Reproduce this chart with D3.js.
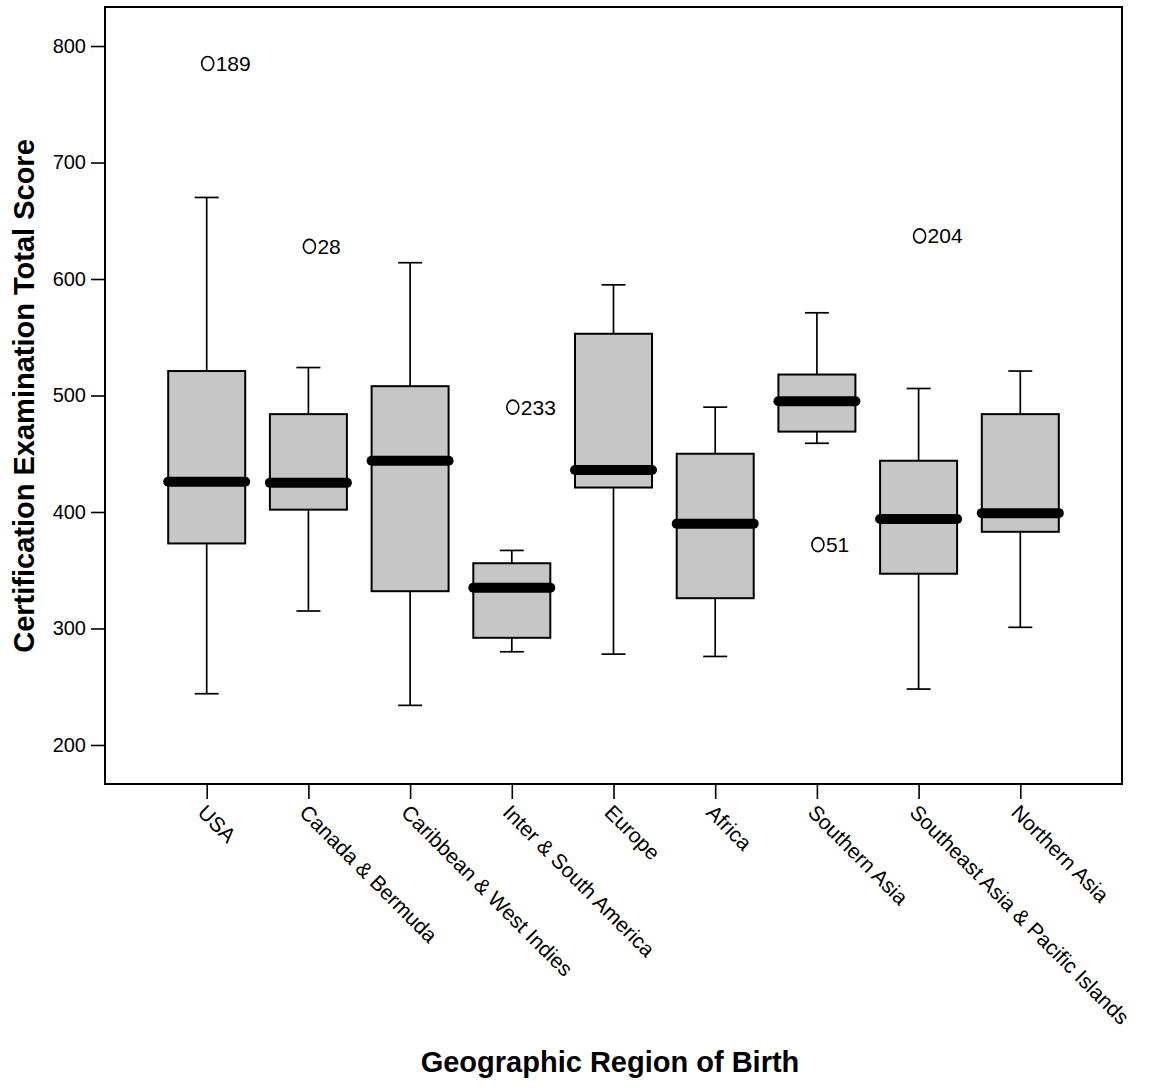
<!DOCTYPE html>
<html><head><meta charset="utf-8">
<script src="https://cdn.jsdelivr.net/npm/d3@7"></script>
<style>body{margin:0;background:#fff;} svg{display:block;font-family:"Liberation Sans",Arial,sans-serif;}</style>
</head><body>
<svg id="c" width="1154" height="1091"></svg>
<script>
const categories = ["USA","Canada & Bermuda","Caribbean & West Indies","Inter & South America","Europe","Africa","Southern Asia","Southeast Asia & Pacific Islands","Northern Asia"];
const whiskerLow  = [244, 315, 234, 280, 278, 276, 459, 248, 301];
const q1          = [373, 402, 332, 292, 421, 326, 469, 347, 383];
const median      = [426, 425, 444, 335, 436, 390, 495, 394, 399];
const q3          = [521, 484, 508, 356, 553, 450, 518, 444, 484];
const whiskerHigh = [670, 524, 614, 367, 595, 490, 571, 506, 521];
const outlierCat   = ["USA","Canada & Bermuda","Inter & South America","Southern Asia","Southeast Asia & Pacific Islands"];
const outlierValue = [785, 628, 490, 372, 637];
const outlierLabel = ["189","28","233","51","204"];
const yTicks = [200,300,400,500,600,700,800];

const svg = d3.select("#c");
const L=105, R=1122, T=7, B=784;
const FONT = "Liberation Sans, Arial, sans-serif";
const x = d3.scalePoint().domain(categories).range([L,R]).padding(1);
const y = d3.scaleLinear().domain([166.5,833.5]).range([B,T]);

// y axis
const ya = svg.append("g").attr("transform",`translate(${L},0)`)
  .call(d3.axisLeft(y).tickValues(yTicks).tickSize(14).tickPadding(5).tickFormat(d3.format("d")));
ya.select(".domain").remove();
ya.selectAll("line").attr("stroke","#000").attr("stroke-width",1.6);
ya.selectAll("text").attr("font-size",20).attr("fill","#000").attr("font-family",FONT);

// x axis
const xa = svg.append("g").attr("transform",`translate(0,${B})`)
  .call(d3.axisBottom(x).tickSize(15).tickFormat(""));
xa.select(".domain").remove();
xa.selectAll("line").attr("stroke","#000").attr("stroke-width",1.6);
xa.selectAll(".tick").append("text")
  .text(d=>d)
  .attr("transform","translate(0,19) rotate(45)")
  .attr("text-anchor","start")
  .attr("dy","0.72em")
  .attr("font-size",21).attr("fill","#000")
  .attr("font-family",FONT);

// frame
svg.append("rect").attr("x",L).attr("y",T).attr("width",R-L).attr("height",B-T)
  .attr("fill","none").attr("stroke","#000").attr("stroke-width",2);

const boxW = 77, capW = 24;
const g = svg.append("g");
categories.forEach((c,i)=>{
  const cx = x(c);
  g.append("line").attr("x1",cx).attr("x2",cx).attr("y1",y(whiskerHigh[i])).attr("y2",y(q3[i])).attr("stroke","#000").attr("stroke-width",1.7);
  g.append("line").attr("x1",cx).attr("x2",cx).attr("y1",y(q1[i])).attr("y2",y(whiskerLow[i])).attr("stroke","#000").attr("stroke-width",1.7);
  g.append("line").attr("x1",cx-capW/2).attr("x2",cx+capW/2).attr("y1",y(whiskerHigh[i])).attr("y2",y(whiskerHigh[i])).attr("stroke","#000").attr("stroke-width",1.7);
  g.append("line").attr("x1",cx-capW/2).attr("x2",cx+capW/2).attr("y1",y(whiskerLow[i])).attr("y2",y(whiskerLow[i])).attr("stroke","#000").attr("stroke-width",1.7);
  g.append("rect").attr("x",cx-boxW/2).attr("y",y(q3[i])).attr("width",boxW).attr("height",y(q1[i])-y(q3[i]))
    .attr("fill","#c6c6c6").attr("stroke","#000").attr("stroke-width",2);
  g.append("line").attr("x1",cx-boxW/2).attr("x2",cx+boxW/2).attr("y1",y(median[i])).attr("y2",y(median[i]))
    .attr("stroke","#000").attr("stroke-width",10).attr("stroke-linecap","round");
});

// outliers
outlierCat.forEach((c,i)=>{
  const cx = x(c)+1, cy = y(outlierValue[i]);
  g.append("ellipse").attr("cx",cx).attr("cy",cy).attr("rx",6).attr("ry",7).attr("fill","none").attr("stroke","#000").attr("stroke-width",1.6);
  g.append("text").attr("x",cx+8).attr("y",cy).attr("dy","0.36em").attr("font-size",21).attr("font-family",FONT).text(outlierLabel[i]);
});

// titles
svg.append("text").attr("x",610).attr("y",1072).attr("text-anchor","middle")
  .attr("font-size",29).attr("font-weight","bold").attr("font-family",FONT).text("Geographic Region of Birth");
svg.append("text").attr("transform",`translate(34,396) rotate(-90)`).attr("text-anchor","middle")
  .attr("font-size",29).attr("font-weight","bold").attr("font-family",FONT).text("Certification Examination Total Score");
</script>
</body></html>
